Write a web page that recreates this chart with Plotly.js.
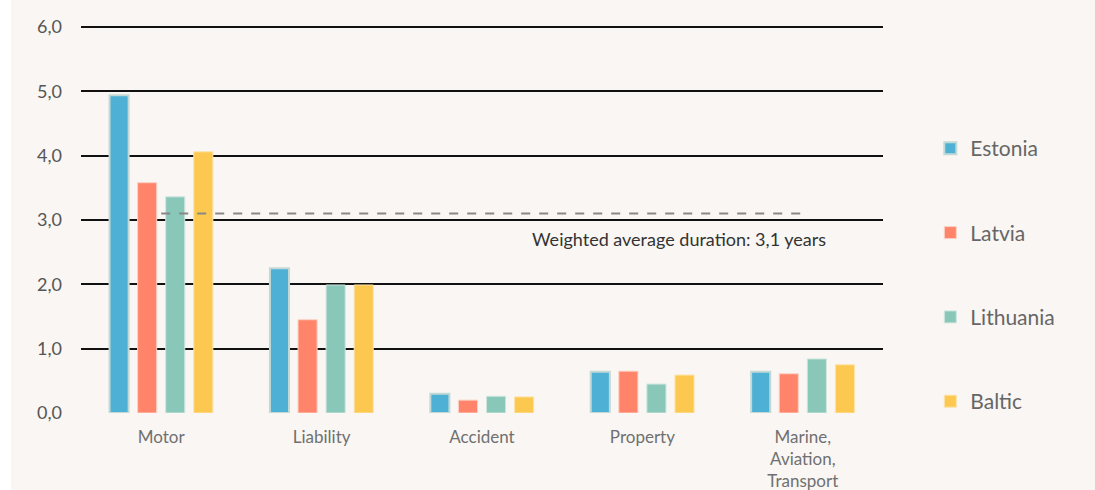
<!DOCTYPE html>
<html><head><meta charset="utf-8">
<script src="https://cdn.plot.ly/plotly-3.0.1.min.js"></script>
<style>
html,body{margin:0;padding:0;background:#ffffff;}
#chart{position:absolute;left:11px;top:0;width:1084px;height:490px;}
</style></head>
<body><div id="chart"></div>
<script>
const categories = ["Motor", "Liability", "Accident", "Property", "Marine,<br>Aviation,<br>Transport"];
const estonia   = [4.94, 2.25, 0.30, 0.64, 0.64];
const latvia    = [3.58, 1.45, 0.20, 0.65, 0.61];
const lithuania = [3.36, 1.99, 0.26, 0.45, 0.84];
const baltic    = [4.06, 1.99, 0.25, 0.59, 0.75];
const seriesNames = ["Estonia", "Latvia", "Lithuania", "Baltic"];
const weightedAverage = 3.1;
const yTicks = [0, 1, 2, 3, 4, 5, 6];
const yTickText = ["0,0", "1,0", "2,0", "3,0", "4,0", "5,0", "6,0"];

const colors = ["#4db0d4", "#ff8469", "#89c7b9", "#fcc84f"];
const lines = ["#c3d9d6", "#fbd2c6", "#cfe6df", "#fde3ab"];
const data = [estonia, latvia, lithuania, baltic].map((vals, i) => ({
  type: "bar", name: seriesNames[i], x: categories, y: vals,
  legendgroup: "g" + i,
  marker: {color: colors[i], line: {color: lines[i], width: i === 0 ? 2 : 1}},
  hoverinfo: "none"
}));

const layout = {
  width: 1084, height: 490,
  margin: {l: 70, r: 212, t: 27, b: 77},
  paper_bgcolor: "#f9f6f3", plot_bgcolor: "#f9f6f3",
  font: {family: "Lato, 'Open Sans', sans-serif", color: "#666"},
  barmode: "group", bargap: 0.30, bargroupgap: 0.32,
  xaxis: {type: "category", showgrid: false, zeroline: false, showline: false,
          ticks: "", tickfont: {size: 17, color: "#707070"}, ticklabelstandoff: 12, fixedrange: true},
  yaxis: {range: [0, 6], tickvals: yTicks, ticktext: yTickText,
          showgrid: true, gridcolor: "#111", gridwidth: 2, zeroline: false,
          tickfont: {size: 18, color: "#555"}, ticks: "", ticklen: 0, ticklabelstandoff: 18, fixedrange: true},
  showlegend: true,
  legend: {x: 1.059, xanchor: "left", y: 0.738, yanchor: "top",
           font: {size: 21, color: "#666"}, tracegroupgap: 54,
           bgcolor: "rgba(0,0,0,0)"},
  shapes: [
    {type: "line", xref: "paper", yref: "paper", x0: 0, x1: 1, y0: 1, y1: 1,
     line: {color: "#111", width: 2}, layer: "below"},
    {type: "line", xref: "x", yref: "y", x0: 0, x1: 4.02,
     y0: weightedAverage, y1: weightedAverage,
     line: {color: "#888", width: 2, dash: "dash"}}],
  annotations: [{xref: "x", yref: "y", x: 4.16, y: weightedAverage, xanchor: "right", yanchor: "top",
                 yshift: -12, showarrow: false,
                 text: "Weighted average duration: " + String(weightedAverage).replace(".", ",") + " years",
                 font: {size: 18, color: "#333"}}]
};
Plotly.newPlot("chart", data, layout, {displayModeBar: false, staticPlot: true});
</script></body></html>
